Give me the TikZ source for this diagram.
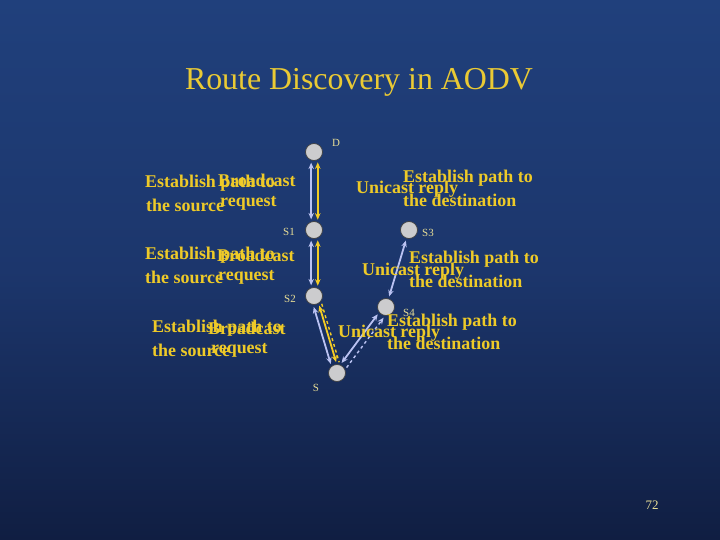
\documentclass[tikz,border=0pt]{standalone}
\usepackage{fontspec}
\setmainfont{Liberation Serif}
\usetikzlibrary{arrows.meta,calc}
\definecolor{bgtop}{RGB}{32,64,124}
\definecolor{bgmid}{RGB}{28,54,108}
\definecolor{bgbot}{RGB}{16,30,66}
\definecolor{ttl}{RGB}{234,202,52}
\definecolor{txt}{RGB}{238,202,40}
\definecolor{lav}{RGB}{186,194,242}
\definecolor{ylw}{RGB}{244,204,36}
\definecolor{lblc}{RGB}{232,222,150}
\definecolor{hostfill}{RGB}{204,204,206}
\tikzset{
  host/.style={circle, draw=black!75, fill=hostfill, minimum size=17bp, inner sep=0pt, line width=0.7bp},
  msg/.style={text=txt, font=\fontsize{18}{18}\selectfont\bfseries, anchor=west, inner sep=0pt},
  lbl/.style={text=lblc, font=\fontsize{11}{11}\selectfont, inner sep=0pt},
  lavarr/.style={draw=lav, line width=1.8bp, {Stealth[length=6.5bp,width=5.5bp]}-{Stealth[length=6.5bp,width=5.5bp]}},
  ylwarr/.style={draw=ylw, line width=1.8bp, {Stealth[length=6.5bp,width=5.5bp]}-{Stealth[length=6.5bp,width=5.5bp]}},
}
\begin{document}
\begin{tikzpicture}[x=1bp,y=-1bp]
\useasboundingbox (0,0) rectangle (720,540);
\shade[top color=bgtop, bottom color=bgbot, middle color=bgmid] (0,0) rectangle (720,540);

\node[text=ttl, font=\fontsize{32}{32}\selectfont, inner sep=0pt] (title) at (359,82) {Route Discovery in AODV};

% hosts
\node[host] (D)  at (314,152) {};
\node[host] (S1) at (314,230) {};
\node[host] (S2) at (314,296) {};
\node[host] (S3) at (409,230) {};
\node[host] (S4) at (386,307) {};
\node[host] (S)  at (337,373) {};

\node[lbl] (lD)  at (336,143) {D};
\node[lbl] (lS1) at (289,232) {S1};
\node[lbl] (lS2) at (290,299) {S2};
\node[lbl] (lS3) at (428,233) {S3};
\node[lbl] (lS4) at (409,313) {S4};
\node[lbl] (lS)  at (316,388) {S};

% connectors
\draw[lavarr] ($(D)!11bp!-15:(S1)$) -- ($(S1)!11bp!15:(D)$);
\draw[ylwarr] ($(D)!11bp!20:(S1)$) -- ($(S1)!11bp!-20:(D)$);
\draw[lavarr] ($(S1)!11bp!-15:(S2)$) -- ($(S2)!11bp!15:(S1)$);
\draw[ylwarr] ($(S1)!11bp!20:(S2)$) -- ($(S2)!11bp!-20:(S1)$);

\draw[lavarr] ($(S2)!11bp!-18:(S)$) -- ($(S)!11bp!18:(S2)$);
\draw[ylwarr] ($(S2)!11bp!12:(S)$) -- ($(S)!11bp!-12:(S2)$);
\draw[draw=ylw, line width=1.4bp, dashed] ($(S2)!11bp!28:(S)$) -- ($(S)!11bp!-28:(S2)$);

\draw[lavarr] ($(S)!11bp!12:(S4)$) -- ($(S4)!11bp!-12:(S)$);
\draw[draw=lav, line width=1.4bp, dashed, -{Stealth[length=6.5bp,width=5.5bp]}] ($(S)!11bp!-24:(S4)$) -- ($(S4)!11bp!24:(S)$);

\draw[lavarr] ($(S3)!11bp!(S4)$) -- ($(S4)!11bp!(S3)$);

% message texts (overlapping animation frames)
\node[msg] (a1) at (145,183) {Establish path to};
\node[msg] (a2) at (146,205) {the source};
\node[msg] (a3) at (218,180) {Broadcast};
\node[msg] (a4) at (220,203) {request};

\node[msg] (b1) at (403,178) {Establish path to};
\node[msg] (b2) at (403,200) {the destination};
\node[msg] (b3) at (356,189) {Unicast reply};

\node[msg] (c1) at (145,255) {Establish path to};
\node[msg] (c2) at (145,277) {the source};
\node[msg] (c3) at (217,255) {Broadcast};
\node[msg] (c4) at (218,277) {request};

\node[msg] (d1) at (409,259) {Establish path to};
\node[msg] (d2) at (409,281) {the destination};
\node[msg] (d3) at (362,271) {Unicast reply};

\node[msg] (e1) at (152,328) {Establish path to};
\node[msg] (e2) at (152,350) {the source};
\node[msg] (e3) at (208,328) {Broadcast};
\node[msg] (e4) at (211,350) {request};

\node[msg] (f1) at (387,322) {Establish path to};
\node[msg] (f2) at (387,343) {the destination};
\node[msg] (f3) at (338,333) {Unicast reply};

\node[lbl, font=\fontsize{13}{13}\selectfont] (pg) at (652,505) {72};
\end{tikzpicture}
\end{document}
